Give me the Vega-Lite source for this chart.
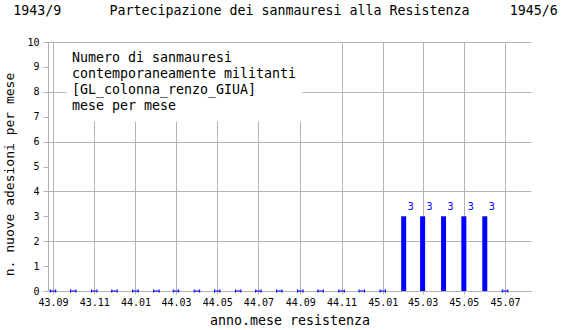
{
  "$schema": "https://vega.github.io/schema/vega-lite/v6.json",
  "width": 483,
  "height": 249,
  "autosize": "none",
  "padding": {"left": 48, "top": 42, "right": 39, "bottom": 39},
  "background": "white",
  "config": {
    "font": "DejaVu Sans Mono",
    "view": {"stroke": null}
  },
  "title": {
    "text": "1943/9\u00a0\u00a0\u00a0\u00a0\u00a0\u00a0Partecipazione dei sanmauresi alla Resistenza\u00a0\u00a0\u00a0\u00a0\u00a01945/6",
    "font": "DejaVu Sans Mono",
    "fontSize": 13.3,
    "fontWeight": "normal",
    "color": "black",
    "anchor": "middle",
    "offset": 20,
    "dx": -4
  },
  "data": {
    "values": [
      {"mese": "1943-09-01", "n": 0},
      {"mese": "1943-10-01", "n": 0},
      {"mese": "1943-11-01", "n": 0},
      {"mese": "1943-12-01", "n": 0},
      {"mese": "1944-01-01", "n": 0},
      {"mese": "1944-02-01", "n": 0},
      {"mese": "1944-03-01", "n": 0},
      {"mese": "1944-04-01", "n": 0},
      {"mese": "1944-05-01", "n": 0},
      {"mese": "1944-06-01", "n": 0},
      {"mese": "1944-07-01", "n": 0},
      {"mese": "1944-08-01", "n": 0},
      {"mese": "1944-09-01", "n": 0},
      {"mese": "1944-10-01", "n": 0},
      {"mese": "1944-11-01", "n": 0},
      {"mese": "1944-12-01", "n": 0},
      {"mese": "1945-01-01", "n": 0},
      {"mese": "1945-02-01", "n": 3},
      {"mese": "1945-03-01", "n": 3},
      {"mese": "1945-04-01", "n": 3},
      {"mese": "1945-05-01", "n": 3},
      {"mese": "1945-06-01", "n": 3},
      {"mese": "1945-07-01", "n": 0}
    ]
  },
  "encoding": {
    "x": {
      "field": "mese",
      "type": "temporal",
      "scale": {
        "type": "utc",
        "domain": [
          {"year": 1943, "month": 9, "date": 1, "utc": true},
          {"year": 1945, "month": 8, "date": 1, "utc": true}
        ]
      },
      "axis": {
        "values": [
          {"year": 1943, "month": 9, "date": 1, "utc": true},
          {"year": 1943, "month": 11, "date": 1, "utc": true},
          {"year": 1944, "month": 1, "date": 1, "utc": true},
          {"year": 1944, "month": 3, "date": 1, "utc": true},
          {"year": 1944, "month": 5, "date": 1, "utc": true},
          {"year": 1944, "month": 7, "date": 1, "utc": true},
          {"year": 1944, "month": 9, "date": 1, "utc": true},
          {"year": 1944, "month": 11, "date": 1, "utc": true},
          {"year": 1945, "month": 1, "date": 1, "utc": true},
          {"year": 1945, "month": 3, "date": 1, "utc": true},
          {"year": 1945, "month": 5, "date": 1, "utc": true},
          {"year": 1945, "month": 7, "date": 1, "utc": true}
        ],
        "format": "%y.%m",
        "title": "anno.mese resistenza",
        "titleFont": "DejaVu Sans Mono",
        "titleFontSize": 13.3,
        "titleFontWeight": "normal",
        "titleColor": "black",
        "titlePadding": 6,
        "labelFont": "DejaVu Sans Mono",
        "labelFontSize": 10,
        "labelColor": "black",
        "labelPadding": 3,
        "labelFlush": false,
        "labelOverlap": false,
        "tickSize": 3,
        "tickColor": "#b0b0b0",
        "domainColor": "#b0b0b0",
        "grid": true,
        "gridColor": "#b4b4b4"
      }
    },
    "y": {
      "type": "quantitative",
      "scale": {"domain": [0, 10], "nice": false},
      "axis": {
        "values": [0, 1, 2, 3, 4, 5, 6, 7, 8, 9, 10],
        "title": "n. nuove adesioni per mese",
        "titleFont": "DejaVu Sans Mono",
        "titleFontSize": 13,
        "titleFontWeight": "normal",
        "titleColor": "black",
        "titlePadding": 10,
        "titleY": 132,
        "labelFont": "DejaVu Sans Mono",
        "labelFontSize": 10,
        "labelColor": "black",
        "labelPadding": 4,
        "tickSize": 5,
        "tickColor": "#b0b0b0",
        "domainColor": "#b0b0b0",
        "grid": true,
        "gridColor": "#b4b4b4",
        "gridOpacity": {"condition": {"test": "datum.value % 2 === 0", "value": 1}, "value": 0}
      }
    }
  },
  "layer": [
    {
      "transform": [{"aggregate": [{"op": "count", "as": "righe"}, {"op": "min", "field": "mese", "as": "mese"}]}],
      "mark": {"type": "rect", "fill": "white", "stroke": null},
      "encoding": {
        "x": {"datum": {"year": 1943, "month": 9, "date": 21, "utc": true}, "type": "temporal"},
        "x2": {"datum": {"year": 1944, "month": 9, "date": 4, "utc": true}},
        "y": {"datum": 9.96, "type": "quantitative"},
        "y2": {"datum": 6.8}
      }
    },
    {
      "transform": [{"aggregate": [{"op": "count", "as": "righe"}, {"op": "min", "field": "mese", "as": "mese"}]}],
      "mark": {
        "type": "text",
        "text": ["Numero di sanmauresi", "contemporaneamente militanti", "[GL_colonna_renzo_GIUA]", "mese per mese"],
        "align": "left",
        "baseline": "alphabetic",
        "lineHeight": 16,
        "font": "DejaVu Sans Mono",
        "fontSize": 13.3,
        "fill": "black"
      },
      "encoding": {
        "x": {"datum": {"year": 1943, "month": 9, "date": 29, "utc": true}, "type": "temporal"},
        "y": {"datum": 9.2, "type": "quantitative"}
      }
    },
    {
      "transform": [{"filter": "datum.n > 0"}],
      "mark": {"type": "bar", "size": 5, "color": "#0000ff"},
      "encoding": {"y": {"field": "n", "type": "quantitative"}}
    },
    {
      "transform": [{"filter": "datum.n > 0"}],
      "mark": {
        "type": "text",
        "color": "#0000ff",
        "font": "DejaVu Sans Mono",
        "fontSize": 10,
        "align": "center",
        "baseline": "alphabetic",
        "dx": 7,
        "dy": -6
      },
      "encoding": {
        "y": {"field": "n", "type": "quantitative"},
        "text": {"field": "n", "type": "quantitative"}
      }
    },
    {
      "transform": [{"filter": "datum.n === 0"}],
      "mark": {
        "type": "point",
        "shape": "M-1,0H1M-1,-0.6V0.6M1,-0.6V0.6",
        "size": 30,
        "filled": false,
        "stroke": "#0000ff",
        "strokeWidth": 1,
        "opacity": 1
      },
      "encoding": {"y": {"field": "n", "type": "quantitative"}}
    }
  ]
}
